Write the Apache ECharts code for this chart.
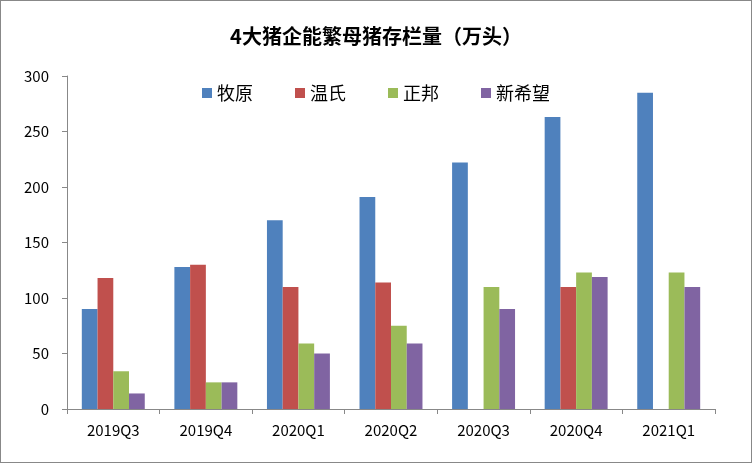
<!DOCTYPE html>
<html>
<head>
<meta charset="utf-8">
<script src="https://cdn.jsdelivr.net/npm/echarts@6/dist/echarts.min.js"></script>
<style>
  html, body { margin: 0; padding: 0; background: #fff; }
  #chart { width: 750px; height: 461px; border: 1px solid #888; }
</style>
</head>
<body>
<div id="chart"></div>
<script>
// 季度
const quarters = ['2019Q3', '2019Q4', '2020Q1', '2020Q2', '2020Q3', '2020Q4', '2021Q1']
const seriesNames = ['牧原', '温氏', '正邦', '新希望']
const muyuan = [90, 128, 170, 191, 222, 263, 285]
const wens = [118, 130, 110, 114, null, 110, null]
const zhengbang = [34, 24, 59, 75, 110, 123, 123]
const xinxiwang = [14, 24, 50, 59, 90, 119, 110]
const colors = ['#4F81BD', '#C0504D', '#9BBB59', '#8064A2']

const font = 'Microsoft YaHei, Noto Sans CJK SC, sans-serif'
const chart = echarts.init(document.getElementById('chart'))
const values = [muyuan, wens, zhengbang, xinxiwang]

const option = {
  animation: false,
  color: colors,
  title: {
    text: '4大猪企能繁母猪存栏量（万头）',
    left: 'center',
    top: 20,
    textStyle: { fontFamily: font, fontSize: 20, fontWeight: 'bold', color: '#000' }
  },
  legend: {
    data: seriesNames,
    top: 78,
    left: 'center',
    itemWidth: 10,
    itemHeight: 10,
    itemGap: 42,
    icon: 'rect',
    textStyle: { fontFamily: font, fontSize: 18, color: '#000' }
  },
  grid: { left: 66, right: 36, top: 75, bottom: 53 },
  xAxis: {
    type: 'category',
    data: quarters,
    axisTick: { show: true, alignWithLabel: false, lineStyle: { color: '#888' } },
    axisLine: { lineStyle: { color: '#888' } },
    axisLabel: { fontFamily: font, fontSize: 15, color: '#000', margin: 14 }
  },
  yAxis: {
    type: 'value',
    min: 0,
    max: 300,
    interval: 50,
    axisLine: { show: true, lineStyle: { color: '#888' } },
    axisTick: { show: true, lineStyle: { color: '#888' } },
    splitLine: { show: false },
    axisLabel: { fontFamily: font, fontSize: 15, color: '#000', margin: 18 }
  },
  series: seriesNames.map((name, i) => ({
    name: name,
    type: 'bar',
    data: values[i],
    barGap: '0%',
    barCategoryGap: '32%'
  }))
}

option && chart.setOption(option)
</script>
</body>
</html>
